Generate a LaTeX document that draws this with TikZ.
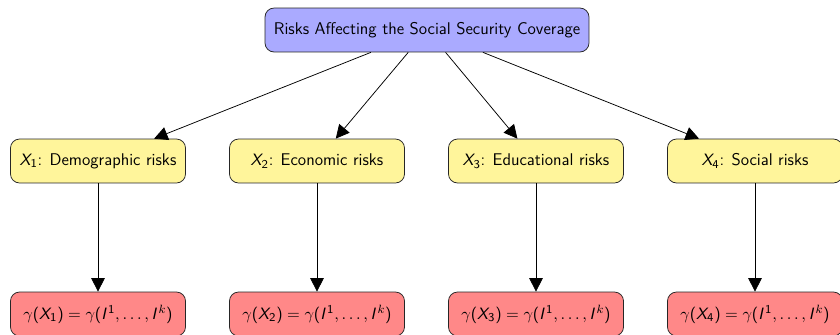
\documentclass[tikz,border=0pt]{standalone}
\usetikzlibrary{arrows.meta}
% sans-serif digits, parentheses and relations in math; sans italic variables
\DeclareSymbolFont{operators}{OT1}{cmss}{m}{n}
\DeclareMathAlphabet{\mathsfit}{OT1}{cmss}{m}{sl}
\newcommand{\vX}{\mathsfit{X}}
\newcommand{\vI}{\mathsfit{I}}
\definecolor{topblue}{RGB}{170,170,255}
\definecolor{riskyellow}{RGB}{255,245,155}
\definecolor{gammared}{RGB}{255,136,136}
\begin{document}
\begin{tikzpicture}[x=0.6667pt, y=-0.6667pt,
  every node/.style={font=\sffamily\fontsize{11.3}{13.5}\selectfont},
  box/.style={draw=black!85, line width=0.5pt, rounded corners=6pt,
    minimum height=29.3pt, inner xsep=3pt, align=center},
  rootbox/.style={box, fill=topblue, minimum width=216pt},
  riskbox/.style={box, fill=riskyellow, minimum width=116.7pt},
  gammabox/.style={box, fill=gammared, minimum width=116.7pt},
  arr/.style={-{Triangle[length=9pt,width=9pt]}, line width=0.5pt}]
  \useasboundingbox (0,0) rectangle (840,334);

  \node[rootbox] (root) at (427,30) {Risks Affecting the Social Security Coverage};

  \node[riskbox] (x1) at (98,161)  {$\vX_1$: Demographic risks};
  \node[riskbox] (x2) at (317,161) {$\vX_2$: Economic risks};
  \node[riskbox] (x3) at (536,161) {$\vX_3$: Educational risks};
  \node[riskbox] (x4) at (755,161) {$\vX_4$: Social risks};

  \node[gammabox] (g1) at (98,314)  {$\gamma(\vX_1)=\gamma(\vI^1,\ldots,\vI^k)$};
  \node[gammabox] (g2) at (317,314) {$\gamma(\vX_2)=\gamma(\vI^1,\ldots,\vI^k)$};
  \node[gammabox] (g3) at (536,314) {$\gamma(\vX_3)=\gamma(\vI^1,\ldots,\vI^k)$};
  \node[gammabox] (g4) at (755,314) {$\gamma(\vX_4)=\gamma(\vI^1,\ldots,\vI^k)$};

  \foreach \i in {1,...,4} {
    \draw[arr] (root) -- (x\i);
    \draw[arr] (x\i) -- (g\i);
  }
\end{tikzpicture}
\end{document}
